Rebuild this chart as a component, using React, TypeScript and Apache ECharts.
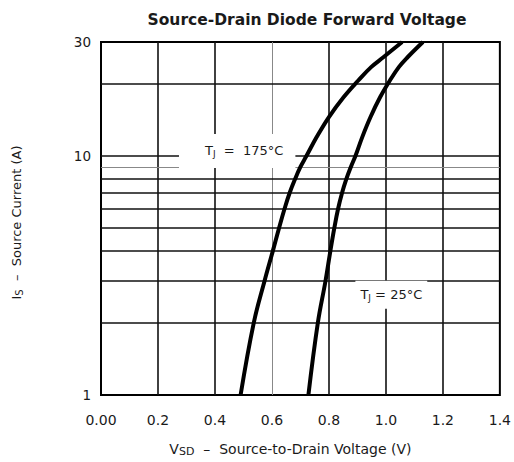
import React, { useEffect, useRef } from "react";
import * as echarts from "echarts";

// Source current (A) sample points along both curves
const currentA = [1, 2, 3, 4, 5, 6, 7, 8, 9, 10, 12.0, 14.56, 17.65, 20.7, 23.6, 25.9, 30];
// VSD (V) at TJ = 175 °C
const vsd175 = [0.49, 0.536, 0.574, 0.603, 0.625, 0.644, 0.662, 0.681, 0.7, 0.721, 0.757, 0.8, 0.852, 0.903, 0.949, 0.991, 1.057];
// VSD (V) at TJ = 25 °C
const vsd25 = [0.728, 0.761, 0.788, 0.805, 0.819, 0.832, 0.846, 0.861, 0.877, 0.893, 0.917, 0.946, 0.98, 1.014, 1.046, 1.076, 1.13];

const xGridDark = [0.2, 0.4, 0.8, 1.0, 1.2];
const xGridLight = [0.6];
const yGridDark = [2, 3, 4, 5, 6, 7, 8, 10, 20];
const yGridLight = [9];

const curveLabels = [
  { text: "T{s|J}  =  175°C", v: 0.478, i: 10.5, pad: [9, 12, 9, 26] },
  { text: "T{s|J} = 25°C", v: 1.019, i: 2.63, pad: [6, 5, 6, 5] },
];

const FONT = "DejaVu Sans";
const INK = "#1a1a1a";

export default function App() {
  const ref = useRef<HTMLDivElement>(null);
  useEffect(() => {
    const chart = echarts.init(ref.current!, null, { renderer: "svg" });
    const dark = { color: "#111", width: 1.6, type: "solid" as const };
    const light = { color: "#888", width: 1, type: "solid" as const };
    const gridLines = [
      ...xGridDark.map((x) => ({ xAxis: x, lineStyle: dark })),
      ...xGridLight.map((x) => ({ xAxis: x, lineStyle: light })),
      ...yGridDark.map((y) => ({ yAxis: y, lineStyle: dark })),
      ...yGridLight.map((y) => ({ yAxis: y, lineStyle: light })),
    ];
    const sub = { s: { fontSize: 9, fontFamily: FONT, color: INK, padding: [7, 0, 0, 0] } };
    chart.setOption({
      animation: false,
      title: {
        text: "Source-Drain Diode Forward Voltage",
        left: 302,
        textAlign: "center",
        top: 7,
        textStyle: { fontFamily: FONT, fontWeight: "bold", fontSize: 15.5, color: INK },
      },
      grid: { left: 101, top: 42, right: 9, bottom: 66, show: true, borderColor: "#000", borderWidth: 2, backgroundColor: "#fff" },
      xAxis: {
        type: "value",
        min: 0,
        max: 1.4,
        interval: 0.2,
        axisLine: { show: false },
        axisTick: { show: false },
        splitLine: { show: false },
        axisLabel: {
          margin: 18,
          fontFamily: FONT,
          fontSize: 14,
          color: INK,
          formatter: (v: number) => (Math.abs(v) < 1e-9 ? "0.00" : v.toFixed(1)),
        },
        name: "V{s|SD}  –  Source-to-Drain Voltage (V)",
        nameLocation: "middle",
        nameGap: 45,
        nameTextStyle: {
          fontFamily: FONT,
          fontSize: 14,
          color: INK,
          padding: [0, 20, 0, 0],
          rich: { s: { fontSize: 11, fontFamily: FONT, color: INK, padding: [6, 0, 0, 0] } },
        },
      },
      yAxis: {
        type: "log",
        logBase: 10,
        min: 1,
        max: 30,
        axisLine: { show: false },
        axisTick: { show: false },
        splitLine: { show: false },
        minorSplitLine: { show: false },
        axisLabel: {
          margin: 10,
          fontFamily: FONT,
          fontSize: 13.5,
          color: INK,
          formatter: (v: number) => String(Math.round(v)),
        },
        name: "I{s|S}  –  Source Current (A)",
        nameLocation: "middle",
        nameGap: 77,
        nameTextStyle: {
          fontFamily: FONT,
          fontSize: 13,
          color: INK,
          padding: [0, 8, 0, 0],
          rich: { s: { fontSize: 10, fontFamily: FONT, color: INK, padding: [6, 0, 0, 0] } },
        },
      },
      series: [
        {
          type: "line",
          data: [],
          z: 1,
          silent: true,
          markLine: {
            silent: true,
            symbol: "none",
            label: { show: false },
            z: 1,
            data: gridLines,
          },
        },
        {
          name: "175",
          type: "line",
          z: 10,
          smooth: 0.4,
          showSymbol: false,
          lineStyle: { color: "#000", width: 4 },
          data: vsd175.map((v, k) => [v, currentA[k]]),
        },
        {
          name: "25",
          type: "line",
          z: 10,
          smooth: 0.4,
          showSymbol: false,
          lineStyle: { color: "#000", width: 4 },
          data: vsd25.map((v, k) => [v, currentA[k]]),
        },
        {
          type: "line",
          data: [],
          z: 20,
          silent: true,
          markPoint: {
            z: 20,
            symbol: "rect",
            symbolSize: 0,
            silent: true,
            data: curveLabels.map((l) => ({
              coord: [l.v, l.i],
              label: {
                show: true,
                position: "inside",
                formatter: l.text,
                fontFamily: FONT,
                fontSize: 13,
                color: INK,
                backgroundColor: "#fff",
                padding: l.pad,
                rich: sub,
              },
            })),
          },
        },
      ],
    });
    return () => chart.dispose();
  }, []);
  return <div ref={ref} style={{ position: "fixed", left: 0, top: 0, width: 514, height: 462, background: "#fff" }} />;
}
